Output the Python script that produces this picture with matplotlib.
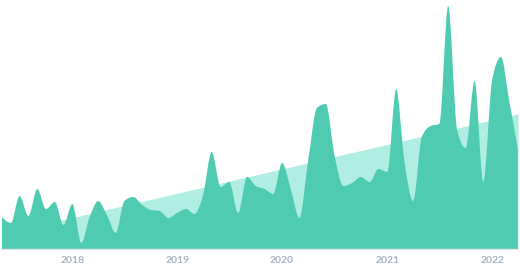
import numpy as np
import pandas as pd
import matplotlib
matplotlib.use("Agg")
import matplotlib.pyplot as plt
import matplotlib.dates as mdates
from matplotlib.path import Path
from matplotlib.patches import PathPatch

# monthly series, May 2017 .. Apr 2022
months = pd.date_range("2017-05-01", "2022-04-01", freq="MS")
values = [32, 26, 53, 33, 60, 40, 47, 24, 45, 6,
          31, 48, 34, 16, 48, 52, 44, 39, 38, 31,
          36, 40, 35, 54, 97, 62, 67, 36, 72, 63,
          60, 55, 86, 59, 31, 89, 141, 145, 94, 63,
          66, 72, 67, 80, 77, 160, 89, 48, 112, 123,
          125, 243, 119, 101, 168, 67, 169, 192, 149, 99]
# linear trend (start, end)
trend = [15, 135]
years = [2018, 2019, 2020, 2021, 2022]

main_color = "#4ecbb0"
trend_color = "#b0ede3"
label_color = "#a9b3c1"


def monotone_path(x, y):
    # cubic bezier through the points with monotone tangents (like d3 curveMonotoneX)
    x = np.asarray(x, float)
    y = np.asarray(y, float)
    h = np.diff(x)
    s = np.diff(y) / h
    t = np.zeros(len(x))
    for i in range(1, len(x) - 1):
        p = (s[i - 1] * h[i] + s[i] * h[i - 1]) / (h[i - 1] + h[i])
        t[i] = (np.sign(s[i - 1]) + np.sign(s[i])) * min(abs(s[i - 1]), abs(s[i]), 0.5 * abs(p))
    t[0] = (3 * s[0] - t[1]) / 2
    t[-1] = (3 * s[-1] - t[-2]) / 2
    verts = [(x[0], 0), (x[0], y[0])]
    codes = [Path.MOVETO, Path.LINETO]
    for i in range(len(x) - 1):
        d = h[i] / 3
        verts += [(x[i] + d, y[i] + t[i] * d), (x[i + 1] - d, y[i + 1] - t[i + 1] * d), (x[i + 1], y[i + 1])]
        codes += [Path.CURVE4] * 3
    verts += [(x[-1], 0), (x[0], 0)]
    codes += [Path.LINETO, Path.CLOSEPOLY]
    return Path(verts, codes)


fig = plt.figure(figsize=(5.2, 2.72), dpi=100)
ax = fig.add_axes([2 / 520, 23 / 272, 516 / 520, 249 / 272])

xs = mdates.date2num(months)
ax.fill_between([xs[0], xs[-1]], 0, trend, color=trend_color, lw=0)
ax.add_patch(PathPatch(monotone_path(xs, values), facecolor=main_color, edgecolor="none"))
ax.plot([xs[-1], xs[-1]], [0, trend[1]], color="#d3d8de", lw=1)

ax.set_xlim(xs[0], xs[-1])
ax.set_ylim(0, 249)
ax.set_yticks([])
ticks = mdates.date2num([pd.Timestamp(f"{y}-01-01") for y in years])
ax.set_xticks(ticks)
ax.set_xticklabels([str(y) for y in years], fontsize=7.5, color=label_color,
                   fontfamily="Lato", fontweight="bold")
ax.tick_params(axis="x", length=0, pad=5)
for side in ["top", "left", "right"]:
    ax.spines[side].set_visible(False)
ax.spines["bottom"].set_color("#e3e7ec")
ax.spines["bottom"].set_linewidth(1)

fig.savefig("out.png", dpi=100)
